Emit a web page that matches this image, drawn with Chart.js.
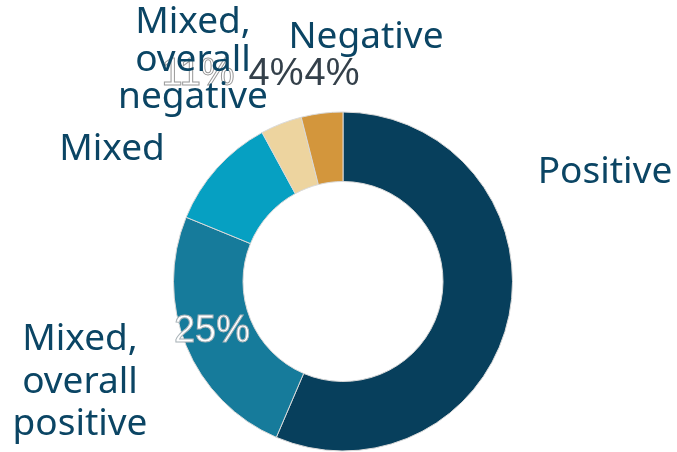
<!DOCTYPE html>
<html>
<head>
<meta charset="utf-8">
<script src="https://cdn.jsdelivr.net/npm/chart.js@4.4.1/dist/chart.umd.min.js"></script>
<style>
  html, body { margin: 0; padding: 0; background: #ffffff; }
  #wrap { width: 677px; height: 452px; }
</style>
</head>
<body>
<div id="wrap"><canvas id="chart" width="677" height="452"></canvas></div>
<script>
const categories = ['Positive', 'Mixed, overall positive', 'Mixed', 'Mixed, overall negative', 'Negative'];
const shares = [57, 25, 11, 4, 4];
const sliceColors = ['#073f5c', '#167b9b', '#06a0c2', '#edd49f', '#d3963c'];

// where each category name and its percentage sit (x = centre of text, y = baseline)
const nameSpots = [
    { x: 605, y: 183, lines: ['Positive'], gap: 0 },
    { x: 80, y: 350, lines: ['Mixed,', 'overall', 'positive'], gap: 42.5 },
    { x: 112, y: 160, lines: ['Mixed'], gap: 0 },
    { x: 193, y: 33, lines: ['Mixed,', 'overall', 'negative'], gap: 37.5 },
    { x: 366, y: 48, lines: ['Negative'], gap: 0 }
];
const valueSpots = [
    null,
    { x: 212, y: 342, fill: '#ffffff', stroke: '#a9b3b8' },
    { x: 198, y: 85, fill: '#ffffff', stroke: '#9a9a9a' },
    { x: 276, y: 85, fill: '#34404a', stroke: null },
    { x: 332, y: 85, fill: '#34404a', stroke: null }
];

const labelPlugin = {
    id: 'sliceLabels',
    afterDatasetsDraw(chart) {
        const ctx = chart.ctx;
        ctx.save();
        ctx.textAlign = 'center';
        ctx.textBaseline = 'alphabetic';

        // percentages
        ctx.font = '38px "Liberation Sans", Arial, sans-serif';
        shares.forEach((v, i) => {
            const spot = valueSpots[i];
            if (!spot) return;
            const txt = v + '%';
            ctx.fillStyle = spot.fill;
            ctx.fillText(txt, spot.x, spot.y);
            if (spot.stroke) {
                ctx.lineWidth = 1;
                ctx.strokeStyle = spot.stroke;
                ctx.strokeText(txt, spot.x, spot.y);
            }
        });

        // category names
        ctx.font = '37px "Noto Sans", sans-serif';
        ctx.fillStyle = '#0b4564';
        nameSpots.forEach(spot => {
            spot.lines.forEach((line, k) => {
                ctx.fillText(line, spot.x, spot.y + k * spot.gap);
            });
        });
        ctx.restore();
    }
};

new Chart(document.getElementById('chart').getContext('2d'), {
    type: 'doughnut',
    data: {
        labels: categories,
        datasets: [{
            data: shares,
            backgroundColor: sliceColors,
            borderColor: '#d9d9d9',
            borderWidth: 1
        }]
    },
    options: {
        responsive: false,
        animation: false,
        cutout: '59%',
        layout: { padding: { top: 111, bottom: 0, left: 173, right: 164 } },
        plugins: {
            legend: { display: false },
            tooltip: { enabled: false }
        }
    },
    plugins: [labelPlugin]
});
</script>
</body>
</html>
